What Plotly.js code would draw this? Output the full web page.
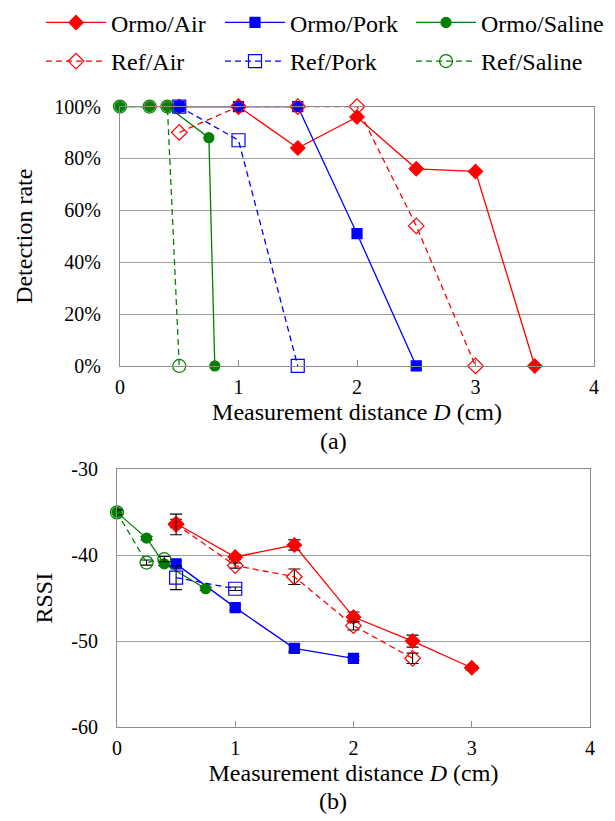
<!DOCTYPE html>
<html>
<head>
<meta charset="utf-8">
<script src="https://cdn.plot.ly/plotly-3.0.1.min.js"></script>
<style>html,body{margin:0;padding:0;background:#fff;}#chart{width:615px;height:821px;}</style>
</head>
<body>
<div id="chart"></div>
<script>
// ---- Detection rate (%) vs distance (cm) ----
const ormoAirX = [0.5, 1, 1.5, 2, 2.5, 3, 3.5];
const ormoAirDet = [100, 100, 84, 96, 76, 75, 0];
const refAirX = [0.5, 1, 1.5, 2, 2.5, 3];
const refAirDet = [90, 100, 100, 100, 54, 0];
const ormoPorkX = [0.5, 1, 1.5, 2, 2.5];
const ormoPorkDet = [100, 100, 100, 51, 0];
const refPorkX = [0.5, 1, 1.5];
const refPorkDet = [100, 87, 0];
const ormoSalineX = [0, 0.25, 0.4, 0.75, 0.8];
const ormoSalineDet = [100, 100, 100, 88, 0];
const refSalineX = [0, 0.25, 0.4, 0.5];
const refSalineDet = [100, 100, 100, 0];

// ---- RSSI vs distance (cm), with error ----
const ormoAirRssiX = [0.5, 1, 1.5, 2, 2.5, 3];
const ormoAirRssi = [-36.3, -40.2, -38.8, -47.2, -50.0, -53.1];
const ormoAirErr = [0.5, 0.3, 0.6, 0.6, 0.7, 0.25];
const refAirRssiX = [0.5, 1, 1.5, 2, 2.5];
const refAirRssi = [-36.4, -41.2, -42.5, -48.2, -52.0];
const refAirErr = [1.2, 0.3, 0.9, 0.5, 0.6];
const ormoPorkRssiX = [0.5, 1, 1.5, 2];
const ormoPorkRssi = [-41.0, -46.1, -50.85, -52.0];
const ormoPorkErr = [0.3, 0.3, 0.4, 0.2];
const refPorkRssiX = [0.5, 1];
const refPorkRssi = [-42.6, -43.9];
const refPorkErr = [1.4, 0.2];
const ormoSalineRssiX = [0, 0.25, 0.4, 0.75];
const ormoSalineRssi = [-35.0, -38.0, -41.0, -43.9];
const ormoSalineErr = [0.3, 0.2, 0.2, 0.2];
const refSalineRssiX = [0, 0.25, 0.4];
const refSalineRssi = [-35.0, -40.85, -40.45];
const refSalineErr = [0.3, 0.3, 0.3];

const seriesNames = ['Ormo/Air', 'Ormo/Pork', 'Ormo/Saline', 'Ref/Air', 'Ref/Pork', 'Ref/Saline'];
const xTickVals = [0, 1, 2, 3, 4];
const xTickLabels = ['0', '1', '2', '3', '4'];
const rssiTickVals = [-60, -50, -40, -30];
const rssiTickLabels = ['-60', '-50', '-40', '-30'];

const RED = '#ff0000', BLUE = '#0000ff', GREEN = '#008000';
const FONT = '"Liberation Serif", "Times New Roman", serif';

const styles = [
  {color: RED,   symbol: 'diamond',      size: 11, dash: 'solid'},
  {color: BLUE,  symbol: 'square',       size: 10, dash: 'solid'},
  {color: GREEN, symbol: 'circle',       size: 10, dash: 'solid'},
  {color: RED,   symbol: 'diamond-open', size: 12, dash: '6px,4px'},
  {color: BLUE,  symbol: 'square-open',  size: 13, dash: '6px,4px'},
  {color: GREEN, symbol: 'circle-open',  size: 13, dash: '6px,4px'}
];
const legendIds = ['legend', 'legend2', 'legend3', 'legend4', 'legend5', 'legend6'];

const detX = [ormoAirX, ormoPorkX, ormoSalineX, refAirX, refPorkX, refSalineX];
const detY = [ormoAirDet, ormoPorkDet, ormoSalineDet, refAirDet, refPorkDet, refSalineDet];
const rssiX = [ormoAirRssiX, ormoPorkRssiX, ormoSalineRssiX, refAirRssiX, refPorkRssiX, refSalineRssiX];
const rssiY = [ormoAirRssi, ormoPorkRssi, ormoSalineRssi, refAirRssi, refPorkRssi, refSalineRssi];
const rssiE = [ormoAirErr, ormoPorkErr, ormoSalineErr, refAirErr, refPorkErr, refSalineErr];

const traces = [];
for (let i = 0; i < 6; i++) {
  const s = styles[i];
  traces.push({
    type: 'scatter', mode: 'lines+markers', name: seriesNames[i],
    x: detX[i], y: detY[i], xaxis: 'x', yaxis: 'y',
    line: {color: s.color, width: 1.3, dash: s.dash},
    marker: {symbol: s.symbol, size: s.size, color: s.color, line: {color: s.color, width: 1.2}},
    cliponaxis: false, legend: legendIds[i], legendgroup: 'g' + i, showlegend: true
  });
}
for (let i = 0; i < 6; i++) {
  const s = styles[i];
  traces.push({
    type: 'scatter', mode: 'lines+markers', name: seriesNames[i],
    x: rssiX[i], y: rssiY[i], xaxis: 'x2', yaxis: 'y2',
    error_y: {type: 'data', array: rssiE[i], visible: true, color: '#000000', thickness: 1.1, width: 6},
    line: {color: s.color, width: 1.3, dash: s.dash},
    marker: {symbol: s.symbol, size: s.size, color: s.color, line: {color: s.color, width: 1.2}},
    cliponaxis: false, legendgroup: 'g' + i, showlegend: false
  });
}

const axisCommon = {
  showline: true, mirror: true, linecolor: '#8c8c8c', linewidth: 1,
  zeroline: false, tickfont: {family: FONT, size: 20, color: '#000'}
};
function legendAt(xpx, ypx) {
  return {
    orientation: 'v', xanchor: 'left', yanchor: 'middle',
    x: xpx / 615, y: 1 - ypx / 821,
    font: {family: FONT, size: 24, color: '#000'}, itemwidth: 60,
    bgcolor: 'rgba(0,0,0,0)'
  };
}
const titleFont = {family: FONT, size: 24, color: '#000'};

const layout = {
  width: 615, height: 821,
  margin: {l: 0, r: 0, t: 0, b: 0},
  paper_bgcolor: '#fff', plot_bgcolor: '#fff',
  font: {family: FONT, size: 20, color: '#000'},
  xaxis: Object.assign({}, axisCommon, {
    domain: [0.1951, 0.9659], anchor: 'y', range: [0, 4],
    tickvals: xTickVals, ticktext: xTickLabels, ticklabelstandoff: 3,
    ticks: 'inside', ticklen: 6, tickcolor: '#8c8c8c', showgrid: false,
    title: {text: 'Measurement distance <i>D</i> (cm)', font: titleFont, standoff: 6}
  }),
  yaxis: Object.assign({}, axisCommon, {
    domain: [0.5597, 0.8788], anchor: 'x', range: [0, 100], dtick: 20, ticksuffix: '%',
    showgrid: true, gridcolor: '#a0a0a0', ticks: '', ticklabelstandoff: 14,
    title: {text: 'Detection rate', font: titleFont, standoff: 14}
  }),
  xaxis2: Object.assign({}, axisCommon, {
    domain: [0.1902, 0.9593], anchor: 'y2', range: [0, 4],
    tickvals: xTickVals, ticktext: xTickLabels, ticklabelstandoff: 3,
    ticks: 'inside', ticklen: 6, tickcolor: '#8c8c8c', showgrid: false,
    title: {text: 'Measurement distance <i>D</i> (cm)', font: titleFont, standoff: 6}
  }),
  yaxis2: Object.assign({}, axisCommon, {
    domain: [0.1157, 0.4324], anchor: 'x2', range: [-60, -30],
    tickvals: rssiTickVals, ticktext: rssiTickLabels,
    showgrid: true, gridcolor: '#a0a0a0', ticks: '', ticklabelstandoff: 14,
    title: {text: 'RSSI', font: titleFont, standoff: 11}
  }),
  legend: legendAt(41, 15),
  legend2: legendAt(220, 15),
  legend3: legendAt(411, 15),
  legend4: legendAt(41, 54),
  legend5: legendAt(220, 54),
  legend6: legendAt(411, 54),
  annotations: [
    {text: '(a)', xref: 'paper', yref: 'paper', x: 333 / 615, y: 1 - 437 / 821, xanchor: 'center', yanchor: 'middle', showarrow: false, font: titleFont},
    {text: '(b)', xref: 'paper', yref: 'paper', x: 333 / 615, y: 1 - 801 / 821, xanchor: 'center', yanchor: 'middle', showarrow: false, font: titleFont}
  ]
};

Plotly.newPlot('chart', traces, layout, {displayModeBar: false, staticPlot: true});
</script>
</body>
</html>
